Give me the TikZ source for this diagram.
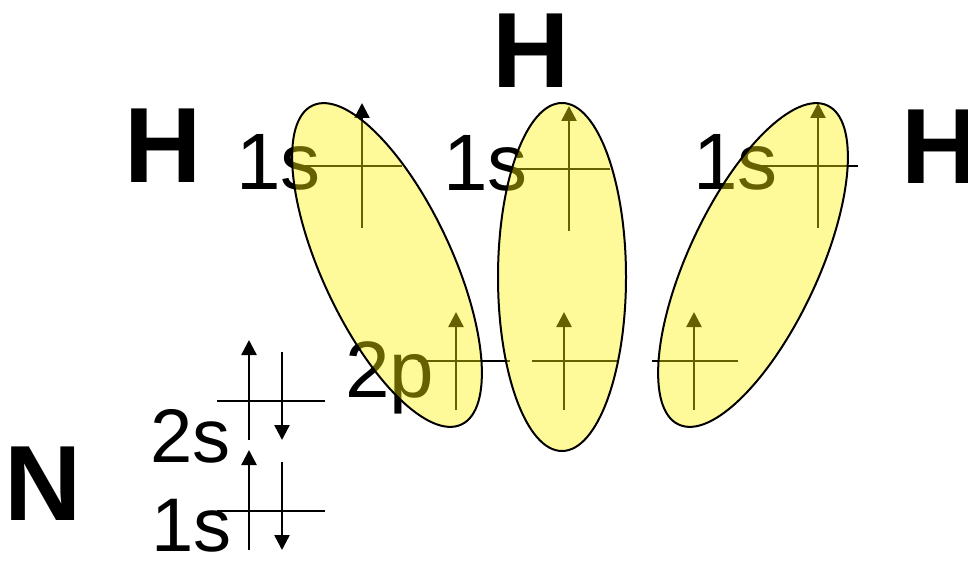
\documentclass[tikz,border=0pt]{standalone}
\usepackage{fontspec}
\setmainfont{Liberation Sans}
\usetikzlibrary{arrows.meta,shapes.geometric}

\begin{document}
\begin{tikzpicture}[x=1pt,y=-1pt,
  atom/.style={font=\fontsize{107}{110}\selectfont\bfseries,inner sep=0pt,anchor=base west},
  orb/.style={font=\fontsize{80}{90}\selectfont,inner sep=0pt,anchor=base west},
  orbN/.style={font=\fontsize{76}{80}\selectfont,inner sep=0pt,anchor=base west},
  level/.style={line width=2pt},
  spin/.style={line width=2.5pt,-{Triangle[width=15pt,length=15pt]}},
  lobe/.style={ellipse,draw=black,line width=2pt,fill=yellow,fill opacity=0.4,inner sep=0pt}]
\useasboundingbox (0,0) rectangle (968,561);
\node[atom] (N) at (4,520) {N};
\node[atom] (HL) at (124,183) {H};
\node[atom] (HM) at (492,88) {H};
\node[atom] (HR) at (901,184) {H};
\node[orbN] (s2) at (150,462) {2s};
\node[orbN] (s1) at (151,551) {1s};
\node[orb] (p2) at (345,397) {2p};
\node[orb] (sL) at (236,190) {1s};
\node[orb] (sM) at (443,191) {1s};
\node[orb] (sR) at (693,190) {1s};
\foreach \y in {401,511} {\draw[level] (217,\y) -- (325,\y);
  \draw[spin] (249,\y+39) -- (249,\y-61); \draw[spin] (282,\y-49) -- (282,\y+39);}
\foreach \a/\b/\x in {418/510/456,532/618/564,652/738/694} {\draw[level] (\a,361) -- (\b,361);
  \draw[spin] (\x,410) -- (\x,312);}
\foreach \a/\b/\x/\y in {305/402/362/166,512/610/569/169,760/858/818/166} {\draw[level] (\a,\y) -- (\b,\y);
  \draw[spin] (\x,\y+62) -- (\x,\y-63);}
\node[lobe,minimum width=352pt,minimum height=130pt,rotate=-65] (lobeL) at (387,265) {};
\node[lobe,minimum width=128pt,minimum height=348pt] (lobeM) at (562,277) {};
\node[lobe,minimum width=352pt,minimum height=130pt,rotate=65] (lobeR) at (753,265) {};
\end{tikzpicture}
\end{document}
